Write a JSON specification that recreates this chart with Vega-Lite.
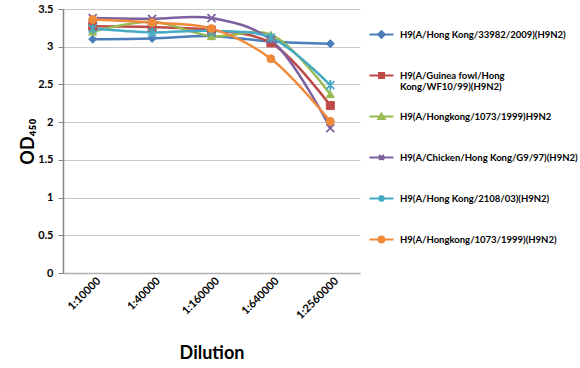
{
  "$schema": "https://vega.github.io/schema/vega-lite/v6.json",
  "autosize": {"type": "none"},
  "width": 297,
  "height": 264,
  "padding": {"left": 63, "top": 9, "right": 220, "bottom": 95},
  "background": "white",
  "config": {"view": {"stroke": null}, "font": "Lato"},
  "data": {
    "values": [
      {"series": "H9(A/Hong Kong/33982/2009)(H9N2)", "dilution": "1:10000", "od": 3.10},
      {"series": "H9(A/Hong Kong/33982/2009)(H9N2)", "dilution": "1:40000", "od": 3.11},
      {"series": "H9(A/Hong Kong/33982/2009)(H9N2)", "dilution": "1:160000", "od": 3.14},
      {"series": "H9(A/Hong Kong/33982/2009)(H9N2)", "dilution": "1:640000", "od": 3.07},
      {"series": "H9(A/Hong Kong/33982/2009)(H9N2)", "dilution": "1:2560000", "od": 3.04},
      {"series": "H9(A/Guinea fowl/Hong|Kong/WF10/99)(H9N2)", "dilution": "1:10000", "od": 3.27},
      {"series": "H9(A/Guinea fowl/Hong|Kong/WF10/99)(H9N2)", "dilution": "1:40000", "od": 3.26},
      {"series": "H9(A/Guinea fowl/Hong|Kong/WF10/99)(H9N2)", "dilution": "1:160000", "od": 3.22},
      {"series": "H9(A/Guinea fowl/Hong|Kong/WF10/99)(H9N2)", "dilution": "1:640000", "od": 3.05},
      {"series": "H9(A/Guinea fowl/Hong|Kong/WF10/99)(H9N2)", "dilution": "1:2560000", "od": 2.22},
      {"series": "H9(A/Hongkong/1073/1999)H9N2", "dilution": "1:10000", "od": 3.20},
      {"series": "H9(A/Hongkong/1073/1999)H9N2", "dilution": "1:40000", "od": 3.33},
      {"series": "H9(A/Hongkong/1073/1999)H9N2", "dilution": "1:160000", "od": 3.14},
      {"series": "H9(A/Hongkong/1073/1999)H9N2", "dilution": "1:640000", "od": 3.16},
      {"series": "H9(A/Hongkong/1073/1999)H9N2", "dilution": "1:2560000", "od": 2.37},
      {"series": "H9(A/Chicken/Hong Kong/G9/97)(H9N2)", "dilution": "1:10000", "od": 3.38},
      {"series": "H9(A/Chicken/Hong Kong/G9/97)(H9N2)", "dilution": "1:40000", "od": 3.37},
      {"series": "H9(A/Chicken/Hong Kong/G9/97)(H9N2)", "dilution": "1:160000", "od": 3.38},
      {"series": "H9(A/Chicken/Hong Kong/G9/97)(H9N2)", "dilution": "1:640000", "od": 3.09},
      {"series": "H9(A/Chicken/Hong Kong/G9/97)(H9N2)", "dilution": "1:2560000", "od": 1.92},
      {"series": "H9(A/Hong Kong/2108/03)(H9N2)", "dilution": "1:10000", "od": 3.24},
      {"series": "H9(A/Hong Kong/2108/03)(H9N2)", "dilution": "1:40000", "od": 3.19},
      {"series": "H9(A/Hong Kong/2108/03)(H9N2)", "dilution": "1:160000", "od": 3.21},
      {"series": "H9(A/Hong Kong/2108/03)(H9N2)", "dilution": "1:640000", "od": 3.12},
      {"series": "H9(A/Hong Kong/2108/03)(H9N2)", "dilution": "1:2560000", "od": 2.49},
      {"series": "H9(A/Hongkong/1073/1999)(H9N2)", "dilution": "1:10000", "od": 3.36},
      {"series": "H9(A/Hongkong/1073/1999)(H9N2)", "dilution": "1:40000", "od": 3.32},
      {"series": "H9(A/Hongkong/1073/1999)(H9N2)", "dilution": "1:160000", "od": 3.24},
      {"series": "H9(A/Hongkong/1073/1999)(H9N2)", "dilution": "1:640000", "od": 2.84},
      {"series": "H9(A/Hongkong/1073/1999)(H9N2)", "dilution": "1:2560000", "od": 2.01}
    ]
  },
  "encoding": {
    "x": {
      "field": "dilution", "type": "ordinal",
      "sort": ["1:10000", "1:40000", "1:160000", "1:640000", "1:2560000"],
      "scale": {"padding": 0.5},
      "axis": {
        "title": "Dilution", "labelAngle": -45, "labelAlign": "right", "labelBaseline": "middle", "ticks": false, "grid": false,
        "domainColor": "#b0b0b0", "domainWidth": 1.5,
        "labelFont": "Lato", "labelFontWeight": "bold", "labelFontSize": 11, "labelColor": "black", "labelPadding": 6, "labelOffset": 6,
        "titleFont": "Lato", "titleFontSize": 18, "titleFontWeight": "bold", "titleColor": "black", "titlePadding": 24
      }
    },
    "y": {
      "field": "od", "type": "quantitative",
      "scale": {"domain": [0, 3.5], "nice": false},
      "axis": {
        "title": "OD₄₅₀", "values": [0, 0.5, 1, 1.5, 2, 2.5, 3, 3.5], "format": "~g",
        "grid": true, "gridColor": "#c8c8c8", "gridWidth": 1.2,
        "domainColor": "#868686", "domainWidth": 1.5, "tickColor": "#868686", "tickSize": 5,
        "labelFont": "Lato", "labelFontWeight": "bold", "labelFontSize": 11, "labelColor": "black", "labelPadding": 5,
        "titleFont": "Lato", "titleFontSize": 18, "titleFontWeight": "bold", "titleColor": "black", "titlePadding": 0
      }
    },
    "color": {
      "field": "series", "type": "nominal",
      "scale": {
        "domain": ["H9(A/Hong Kong/33982/2009)(H9N2)", "H9(A/Guinea fowl/Hong|Kong/WF10/99)(H9N2)", "H9(A/Hongkong/1073/1999)H9N2", "H9(A/Chicken/Hong Kong/G9/97)(H9N2)", "H9(A/Hong Kong/2108/03)(H9N2)", "H9(A/Hongkong/1073/1999)(H9N2)"],
        "range": ["#4A7EBB", "#BE4B48", "#98B954", "#7D60A0", "#46AAC5", "#F08A3A"]
      },
      "legend": {
        "orient": "none", "legendX": 313, "legendY": 20, "title": null,
        "labelFont": "Lato", "labelFontSize": 9.5, "labelFontWeight": "bold", "labelColor": "black",
        "labelLimit": 300, "labelOffset": 13, "symbolSize": 64, "symbolStrokeWidth": 2.2, "rowPadding": 16, "gridAlign": "all",
        "labelExpr": "split(datum.label, '|')",
        "encode": {
          "symbols": {
            "update": {
              "shape": {"signal": "datum.index===0 ? 'M-3,0L3,0M0,-0.8L0.8,0L0,0.8L-0.8,0Z' : datum.index===1 ? 'M-3,0L3,0M-0.6,-0.6L0.6,-0.6L0.6,0.6L-0.6,0.6Z' : datum.index===2 ? 'M-3,0L3,0M0,-0.7L0.75,0.6L-0.75,0.6Z' : datum.index===3 ? 'M-3,0L3,0M-0.6,-0.6L0.6,0.6M-0.6,0.6L0.6,-0.6' : datum.index===4 ? 'M-3,0L3,0M-0.6,-0.6L0.6,0.6M-0.6,0.6L0.6,-0.6M0,-0.8L0,0.8' : 'M-3,0L3,0M-0.7,0A0.7,0.7,0,1,1,0.7,0A0.7,0.7,0,1,1,-0.7,0Z'"},
              "fill": {"scale": "color", "field": "value"},
              "stroke": {"scale": "color", "field": "value"},
              "strokeWidth": {"value": 2.2},
              "opacity": {"value": 1}
            }
          }
        }
      }
    }
  },
  "layer": [
    {
      "mark": {"type": "line", "interpolate": "catmull-rom", "strokeWidth": 2.5}
    },
    {
      "mark": {"type": "point", "filled": true, "size": 64, "opacity": 1},
      "encoding": {
        "shape": {
          "condition": [
            {"test": "datum.series === 'H9(A/Hong Kong/33982/2009)(H9N2)'", "value": "diamond"},
            {"test": "datum.series === 'H9(A/Guinea fowl/Hong|Kong/WF10/99)(H9N2)'", "value": "square"},
            {"test": "datum.series === 'H9(A/Hongkong/1073/1999)H9N2'", "value": "triangle-up"},
            {"test": "datum.series === 'H9(A/Chicken/Hong Kong/G9/97)(H9N2)'", "value": "M-1,-1L1,1M-1,1L1,-1"},
            {"test": "datum.series === 'H9(A/Hong Kong/2108/03)(H9N2)'", "value": "M-1,-1L1,1M-1,1L1,-1M0,-1.3L0,1.3"}
          ],
          "value": "circle"
        },
        "stroke": {
          "field": "series", "type": "nominal", "legend": null,
          "scale": {
            "domain": ["H9(A/Hong Kong/33982/2009)(H9N2)", "H9(A/Guinea fowl/Hong|Kong/WF10/99)(H9N2)", "H9(A/Hongkong/1073/1999)H9N2", "H9(A/Chicken/Hong Kong/G9/97)(H9N2)", "H9(A/Hong Kong/2108/03)(H9N2)", "H9(A/Hongkong/1073/1999)(H9N2)"],
            "range": ["#4A7EBB", "#BE4B48", "#98B954", "#7D60A0", "#46AAC5", "#F08A3A"]
          }
        },
        "strokeWidth": {
          "condition": [
            {"test": "datum.series === 'H9(A/Chicken/Hong Kong/G9/97)(H9N2)'", "value": 1.8},
            {"test": "datum.series === 'H9(A/Hong Kong/2108/03)(H9N2)'", "value": 1.8}
          ],
          "value": 1
        }
      }
    }
  ]
}
